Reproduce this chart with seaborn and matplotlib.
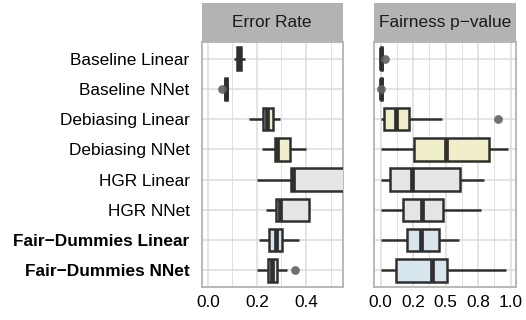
import numpy as np
import pandas as pd
import matplotlib
matplotlib.use("Agg")
import matplotlib.pyplot as plt
import seaborn as sns
from matplotlib.ticker import FixedLocator

sns.set_style("white")
plt.rcParams['font.family'] = ['Liberation Sans', 'DejaVu Sans']

methods = ["Baseline Linear", "Baseline NNet", "Debiasing Linear", "Debiasing NNet",
           "HGR Linear", "HGR NNet", "Fair\u2212Dummies Linear", "Fair\u2212Dummies NNet"]
fills = ["#e8e8e8", "#e8e8e8", "#f7f3c3", "#f7f3c3",
         "#e5e5e5", "#e5e5e5", "#d2e7f0", "#d2e7f0"]

# Error rate box summaries (whisker low, Q1, median, Q3, whisker high)
err_lo  = [0.108, 0.067, 0.167, 0.220, 0.200, 0.237, 0.209, 0.200]
err_q1  = [0.118, 0.068, 0.225, 0.272, 0.338, 0.276, 0.248, 0.244]
err_med = [0.127, 0.073, 0.240, 0.280, 0.347, 0.293, 0.276, 0.262]
err_q3  = [0.135, 0.078, 0.264, 0.333, 0.620, 0.412, 0.304, 0.280]
err_hi  = [0.150, 0.080, 0.294, 0.399, 0.800, 0.412, 0.373, 0.324]
err_out_method = ["Baseline NNet", "Fair\u2212Dummies NNet"]
err_out_value  = [0.056, 0.356]

# Fairness p-value box summaries
fp_lo  = [0.000, 0.001, 0.006, 0.006, 0.006, 0.006, 0.006, 0.006]
fp_q1  = [0.001, 0.002, 0.025, 0.255, 0.075, 0.172, 0.203, 0.117]
fp_med = [0.004, 0.005, 0.120, 0.500, 0.243, 0.320, 0.307, 0.392]
fp_q3  = [0.010, 0.008, 0.220, 0.830, 0.608, 0.483, 0.445, 0.512]
fp_hi  = [0.015, 0.010, 0.474, 0.982, 0.797, 0.769, 0.605, 0.962]
fp_out_method = ["Baseline Linear", "Baseline NNet", "Debiasing Linear"]
fp_out_value  = [0.035, 0.000, 0.905]

W, H = 526, 320
fig = plt.figure(figsize=(W / 100, H / 100), dpi=100)

LINE = "#2f2f2f"
GRID = "#dcdcdc"
BORDER = "#b3b3b3"
FS = 12.4

def long_df(lo, q1, med, q3, hi):
    rows = []
    for i, m in enumerate(methods):
        for v in (lo[i], q1[i], med[i], q3[i], hi[i]):
            rows.append((m, v))
    return pd.DataFrame(rows, columns=["method", "value"])

def panel(rect, lo, q1, med, q3, hi, out_m, out_v, xlim, majors, majlabels, minors, title, show_y):
    x0, y0, w, h = rect
    ax = fig.add_axes([x0 / W, 1 - (y0 + h) / H, w / W, h / H])
    df = long_df(lo, q1, med, q3, hi)
    sns.boxplot(data=df, x="value", y="method", hue="method", order=methods,
                hue_order=methods, palette=dict(zip(methods, fills)), legend=False,
                whis=(0, 100), width=0.74, showfliers=False, showcaps=False,
                linecolor=LINE, linewidth=1.8,
                medianprops=dict(linewidth=3.4, color=LINE), ax=ax, zorder=3)
    od = pd.DataFrame({"method": out_m, "value": out_v})
    sns.stripplot(data=od, x="value", y="method", order=methods, jitter=False,
                  color="#626262", alpha=0.9, size=6.3, linewidth=0, ax=ax, zorder=4)
    ax.set_xlim(*xlim)
    ax.set_ylim(7.56, -0.56)
    ax.xaxis.set_major_locator(FixedLocator(majors))
    ax.set_xticklabels(majlabels)
    ax.xaxis.set_minor_locator(FixedLocator(minors))
    ax.set_yticks(range(len(methods)))
    ax.grid(True, which="major", color=GRID, linewidth=1.1, zorder=0)
    ax.grid(True, which="minor", axis="x", color=GRID, linewidth=0.6, zorder=0)
    ax.set_axisbelow(True)
    for s in ax.spines.values():
        s.set_visible(True)
        s.set_color(BORDER)
        s.set_linewidth(1.3)
    ax.tick_params(axis="both", which="major", length=3.0, width=0.8, color=BORDER,
                   labelsize=FS, labelcolor="black", pad=2.5)
    ax.tick_params(axis="y", which="major", pad=5.5)
    ax.tick_params(axis="x", which="minor", length=0)
    ax.set_xlabel("")
    ax.set_ylabel("")
    if show_y:
        ax.set_yticklabels(methods)
        for t in ax.get_yticklabels():
            if t.get_text().startswith("Fair"):
                t.set_fontweight("bold")
    else:
        ax.set_yticklabels([])
    # strip
    sax = fig.add_axes([x0 / W, 1 - (y0 - 0.2) / H, w / W, 38.4 / H])
    sax.set_facecolor(BORDER)
    sax.set_xticks([]); sax.set_yticks([])
    for s in sax.spines.values():
        s.set_visible(False)
    sax.text(0.5, 0.5, title, ha="center", va="center", fontsize=FS, color="#1a1a1a",
             transform=sax.transAxes)
    return ax

panel((201.5, 41.7, 141.5, 245.6), err_lo, err_q1, err_med, err_q3, err_hi,
      err_out_method, err_out_value, (-0.0265, 0.551),
      [0.0, 0.2, 0.4], ["0.0", "0.2", "0.4"], [0.1, 0.3, 0.5], "Error Rate", True)
panel((373.5, 41.7, 142.5, 245.6), fp_lo, fp_q1, fp_med, fp_q3, fp_hi,
      fp_out_method, fp_out_value, (-0.0554, 1.041),
      [0.0, 0.25, 0.5, 0.75, 1.0], ["0.0", "0.2", "0.5", "0.8", "1.0"],
      [0.125, 0.375, 0.625, 0.875], "Fairness p\u2212value", False)

fig.savefig("out.png", dpi=100)
